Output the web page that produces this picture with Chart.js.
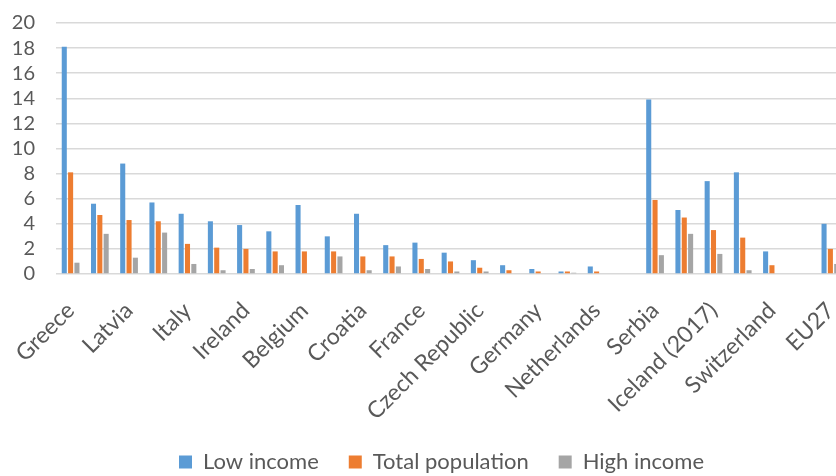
<!DOCTYPE html>
<html>
<head>
<meta charset="utf-8">
<script src="https://cdn.jsdelivr.net/npm/chart.js@4"></script>
<style>
  body { margin: 0; background: #fff; overflow: hidden; }
  #wrap { position: relative; width: 878px; height: 487px; }
</style>
</head>
<body>
<div id="wrap"><canvas id="myChart"></canvas></div>
<script>
// categories (every other one is labelled in the original; blanks are unlabelled / spacer groups)
const categories = ["Greece", "", "Latvia", "", "Italy", "", "Ireland", "", "Belgium", "", "Croatia", "",
    "France", "", "Czech Republic", "", "Germany", "", "Netherlands", "", "Serbia", "", "Iceland (2017)", "",
    "Switzerland", "", "EU27"];

const lowIncome = [18.1, 5.6, 8.8, 5.7, 4.8, 4.2, 3.9, 3.4, 5.5, 3.0, 4.8, 2.3,
    2.5, 1.7, 1.1, 0.7, 0.4, 0.2, 0.6, null, 13.9, 5.1, 7.4, 8.1, 1.8, null, 4.0];
const totalPopulation = [8.1, 4.7, 4.3, 4.2, 2.4, 2.1, 2.0, 1.8, 1.8, 1.8, 1.4, 1.4,
    1.2, 1.0, 0.5, 0.3, 0.2, 0.2, 0.2, null, 5.9, 4.5, 3.5, 2.9, 0.7, null, 2.0];
const highIncome = [0.9, 3.2, 1.3, 3.3, 0.8, 0.3, 0.4, 0.7, null, 1.4, 0.3, 0.6,
    0.4, 0.2, 0.2, null, null, 0.1, null, null, 1.5, 3.2, 1.6, 0.3, null, null, 0.8];

const yTicks = [0, 2, 4, 6, 8, 10, 12, 14, 16, 18, 20];

const textColor = "#595959";
const gridColor = "#D9D9D9";

// legend is centred on the whole picture in the original, not on the plot
const legendShift = {
    id: "legendShift",
    afterLayout(chart) {
        chart.legend.left += 19;
        chart.legend.right += 19;
    }
};

new Chart("myChart", {
    type: "bar",
    data: {
        labels: categories,
        datasets: [
            { label: "Low income", data: lowIncome, backgroundColor: "#5B9BD5" },
            { label: "Total population", data: totalPopulation, backgroundColor: "#ED7D31" },
            { label: "High income", data: highIncome, backgroundColor: "#A5A5A5" }
        ]
    },
    plugins: [legendShift],
    options: {
        responsive: true,
        maintainAspectRatio: false,
        devicePixelRatio: 1,
        animation: false,
        barPercentage: 0.8,
        categoryPercentage: 0.65,
        layout: { padding: { top: 16, right: 33, left: 0, bottom: 4 } },
        scales: {
            x: {
                grid: { display: false },
                border: { display: false },
                ticks: {
                    autoSkip: false,
                    minRotation: 45,
                    maxRotation: 45,
                    padding: 15,
                    color: textColor,
                    font: { family: "Lato", size: 23 }
                },
                afterFit: (scale) => { scale.height = 147; }
            },
            y: {
                min: 0,
                max: 20,
                afterBuildTicks: (scale) => { scale.ticks = yTicks.map(v => ({ value: v })); },
                grid: { color: gridColor, lineWidth: 1.5, drawTicks: false },
                border: { display: false },
                ticks: {
                    autoSkip: false,
                    color: textColor,
                    padding: 21,
                    font: { family: "Lato", size: 20 }
                },
                afterFit: (scale) => {
                    scale.width = 56;
                    // keep the label padding from pushing the plot top down
                    scale.paddingTop -= 10;
                    scale.paddingBottom -= 10;
                }
            }
        },
        plugins: {
            tooltip: { enabled: false },
            legend: {
                position: "bottom",
                labels: {
                    boxWidth: 13,
                    boxHeight: 13,
                    padding: 30,
                    color: textColor,
                    font: { family: "Lato", size: 22 }
                }
            }
        }
    }
});
</script>
</body>
</html>
